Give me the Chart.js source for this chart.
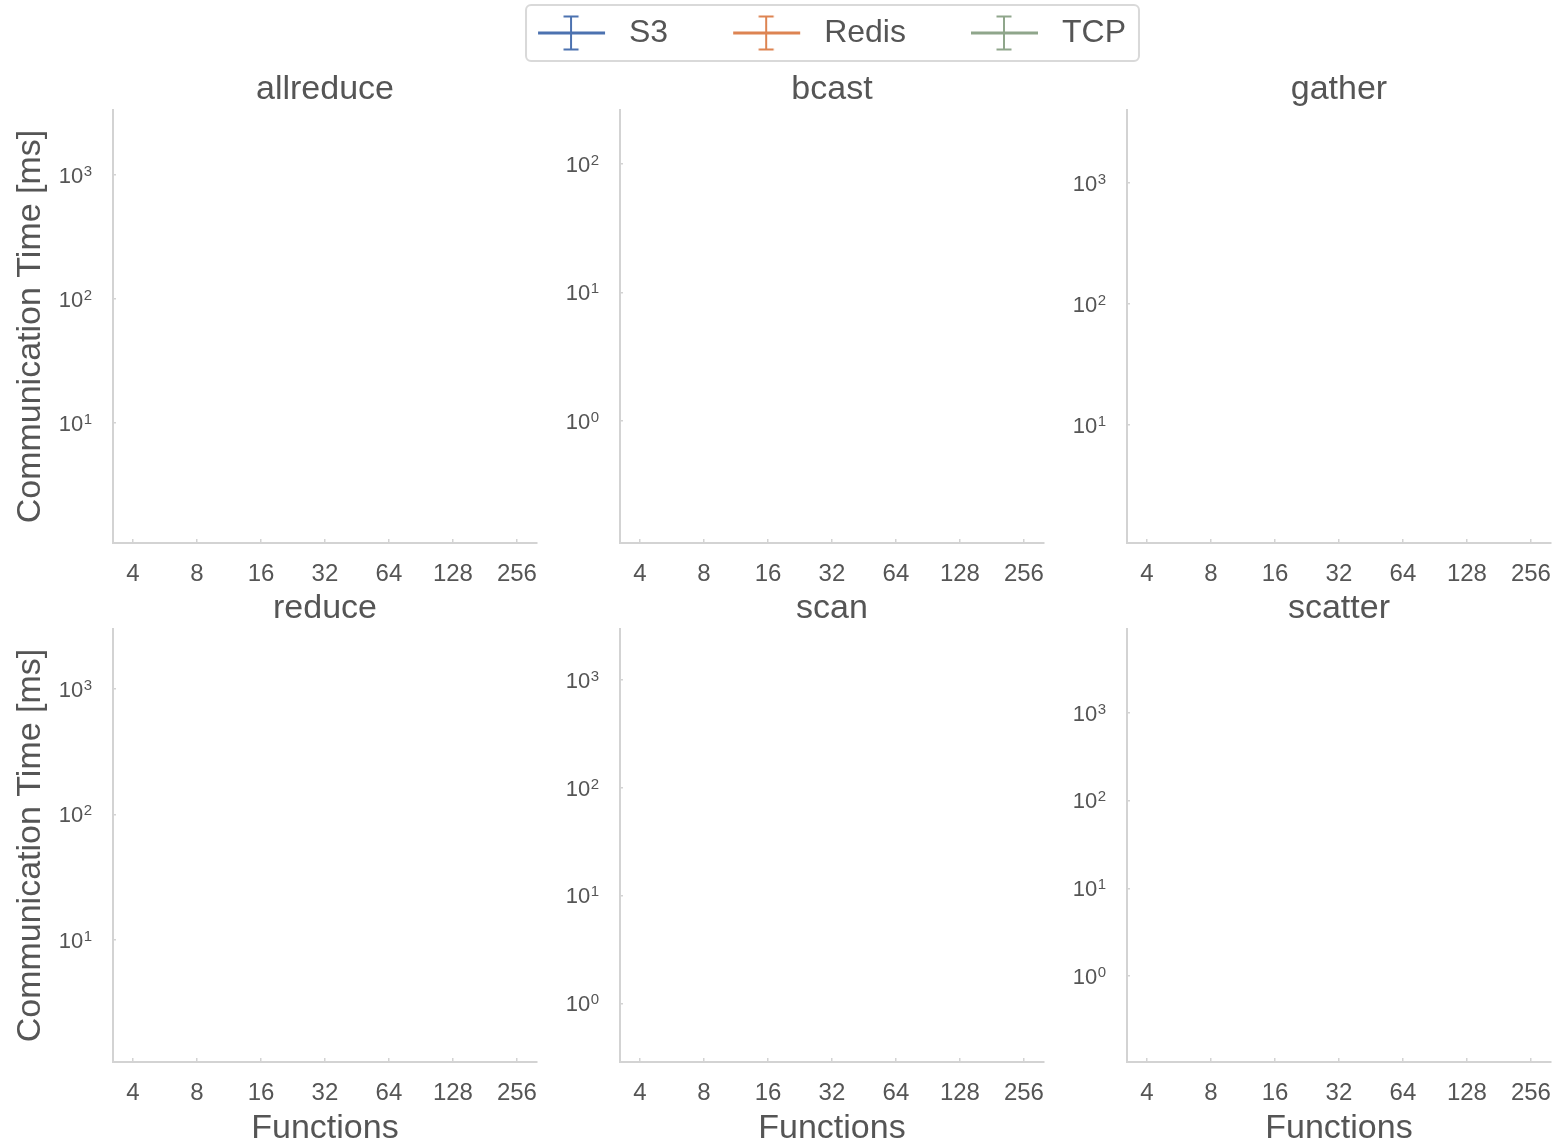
<!DOCTYPE html>
<html><head><meta charset="utf-8">
<script src="https://cdn.jsdelivr.net/npm/chart.js@4.4.1/dist/chart.umd.min.js"></script>
<style>
html,body{margin:0;padding:0;background:#fff;overflow:hidden;width:1555px;height:1143px;position:relative;}
.box{position:absolute;}
</style></head><body>
<div id="lg" class="box" style="left:0;top:-47px;width:1555px;height:200px"><canvas id="legendCanvas"></canvas></div>
<script>
// ---- data ----
const categories = [4, 8, 16, 32, 64, 128, 256];            // number of functions
const panelNames = ['allreduce', 'bcast', 'gather', 'reduce', 'scan', 'scatter'];
const seriesNames = ['S3', 'Redis', 'TCP'];
const seriesColors = ['#4c72b0', '#dd8452', '#8fa68b'];
// no marks are visible in any panel of the reference
const s3Times    = [null, null, null, null, null, null, null];
const redisTimes = [null, null, null, null, null, null, null];
const tcpTimes   = [null, null, null, null, null, null, null];
// y-axis limits per panel (log10 of ms)
const yMinExp = [0.032, -0.954, 0.027, 0.028, -0.544, -0.979];
const yMaxExp = [3.524, 2.421, 3.600, 3.478, 3.473, 3.953];
const xMin = 3.221, xMax = 317.9;
const yTitle = 'Communication Time [ms]';
const xTitle = 'Functions';

const FONT = '"Liberation Sans", Arial, Helvetica, sans-serif';
const TXT = '#555555';
const AXIS = '#d3d3d3';
Chart.defaults.font.family = FONT;
Chart.defaults.color = TXT;
Chart.defaults.animation = false;

const seriesData = [s3Times, redisTimes, tcpTimes];

// draws "10" with a raised exponent at each y tick
const powerLabels = {
  id: 'powerLabels',
  afterDraw(chart){
    const sc = chart.scales.y, g = chart.ctx;
    g.save();
    g.fillStyle = TXT;
    g.textBaseline = 'alphabetic';
    g.textAlign = 'right';
    sc.ticks.forEach(t => {
      const y = sc.getPixelForValue(t.value);
      const e = String(Math.round(Math.log10(t.value)));
      const xr = sc.right - 21;
      g.font = '15px ' + FONT;
      g.fillText(e, xr, y + 0.9);
      const w = g.measureText(e).width;
      g.font = '22px ' + FONT;
      g.fillText('10', xr - w - 0.5, y + 7.9);
    });
    g.restore();
  }
};

// ---- panels ----
const colLeft = [0, 507, 1014];
const rowTop = [69, 588];
const rowHeight = [524, 561];
const xAxisHeight = [50, 87];

panelNames.forEach((name, p) => {
  const col = p % 3, row = Math.floor(p / 3);
  const div = document.createElement('div');
  div.className = 'box';
  div.style.left = colLeft[col] + 'px';
  div.style.top = rowTop[row] + 'px';
  div.style.width = '559px';
  div.style.height = rowHeight[row] + 'px';
  const cv = document.createElement('canvas');
  div.appendChild(cv);
  document.body.appendChild(div);

  new Chart(cv, {
    type: 'line',
    data: {
      datasets: seriesNames.map((s, i) => ({
        label: s,
        data: categories.map((c, k) => ({x: c, y: seriesData[i][k]})),
        borderColor: seriesColors[i],
        backgroundColor: seriesColors[i],
        borderWidth: 2,
        pointRadius: 0,
        spanGaps: false
      }))
    },
    options: {
      responsive: true,
      maintainAspectRatio: false,
      layout: {padding: {left: 0, right: 0, top: 0, bottom: 0}},
      plugins: {
        legend: {display: false},
        tooltip: {enabled: false},
        title: {
          display: true, text: name, fullSize: false,
          font: {size: 34, weight: 'normal'}, color: TXT,
          padding: {top: 0, bottom: 0.2}
        }
      },
      scales: {
        x: {
          type: 'logarithmic',
          min: xMin, max: xMax, bounds: 'data',
          afterBuildTicks: sc => { sc.ticks = categories.map(v => ({value: v})); },
          afterFit: sc => { sc.height = xAxisHeight[row]; },
          ticks: {autoSkip: false, maxRotation: 0, padding: 21, font: {size: 24}, color: TXT,
                  callback: v => String(v)},
          grid: {display: true, drawOnChartArea: false, drawTicks: true, tickLength: -4, color: AXIS, lineWidth: 1.5},
          border: {display: true, color: AXIS, width: 2},
          title: {display: row === 1, text: xTitle, font: {size: 34}, color: TXT, padding: {top: 0, bottom: 0}}
        },
        y: {
          type: 'logarithmic',
          min: Math.pow(10, yMinExp[p]), max: Math.pow(10, yMaxExp[p]), bounds: 'data',
          afterBuildTicks: sc => {
            const t = [];
            for (let e = Math.ceil(yMinExp[p]); e <= Math.floor(yMaxExp[p]); e++) t.push({value: Math.pow(10, e)});
            sc.ticks = t;
          },
          afterFit: sc => { sc.width = 113; },
          ticks: {display: false},
          grid: {display: true, drawOnChartArea: false, drawTicks: true, tickLength: -3, color: AXIS, lineWidth: 1.5},
          border: {display: true, color: AXIS, width: 2},
          title: {display: col === 0, text: yTitle, font: {size: 34}, color: TXT, padding: {top: 10, bottom: 0}}
        }
      }
    },
    plugins: [powerLabels]
  });
});

// ---- legend ----
function legendIcon(color){
  const c = document.createElement('canvas');
  c.width = 76; c.height = 40;
  const g = c.getContext('2d');
  g.strokeStyle = color;
  g.lineCap = 'butt';
  g.lineWidth = 3;
  g.beginPath(); g.moveTo(1, 20); g.lineTo(68, 20); g.stroke();
  g.lineWidth = 2;
  g.beginPath(); g.moveTo(34, 3.5); g.lineTo(34, 36.5);
  g.moveTo(26.5, 3.5); g.lineTo(41.5, 3.5);
  g.moveTo(26.5, 36.5); g.lineTo(41.5, 36.5); g.stroke();
  return c;
}
const icons = seriesColors.map(legendIcon);

const frame = {
  id: 'legendFrame',
  afterDraw(chart){
    const hb = chart.legend.legendHitBoxes;
    if (!hb || !hb.length) return;
    const l = hb[0].left - 11, t = hb[0].top - 12;
    const last = hb[hb.length - 1];
    const r = last.left + last.width + 13, b = hb[0].top + hb[0].height + 12;
    const g = chart.ctx;
    g.save();
    g.strokeStyle = '#d9d9d9'; g.lineWidth = 2;
    g.beginPath();
    if (g.roundRect) g.roundRect(l, t, r - l, b - t, 5); else g.rect(l, t, r - l, b - t);
    g.stroke();
    g.restore();
  }
};

new Chart(document.getElementById('legendCanvas'), {
  type: 'line',
  data: {datasets: seriesNames.map((s, i) => ({label: s, data: [], borderColor: seriesColors[i]}))},
  options: {
    responsive: true, maintainAspectRatio: false,
    layout: {padding: {left: 108, right: 0, top: 0, bottom: 0}},
    scales: {x: {display: false}, y: {display: false}},
    plugins: {
      tooltip: {enabled: false},
      legend: {
        display: true, position: 'top', align: 'center',
        labels: {
          usePointStyle: true, pointStyleWidth: 76, padding: 64,
          font: {size: 32}, color: TXT,
          generateLabels: chart => chart.data.datasets.map((d, i) => ({
            text: d.label, pointStyle: icons[i], fillStyle: 'transparent',
            strokeStyle: 'transparent', lineWidth: 0, hidden: false, datasetIndex: i, fontColor: TXT
          }))
        }
      }
    }
  },
  plugins: [frame]
});
</script>
</body></html>
